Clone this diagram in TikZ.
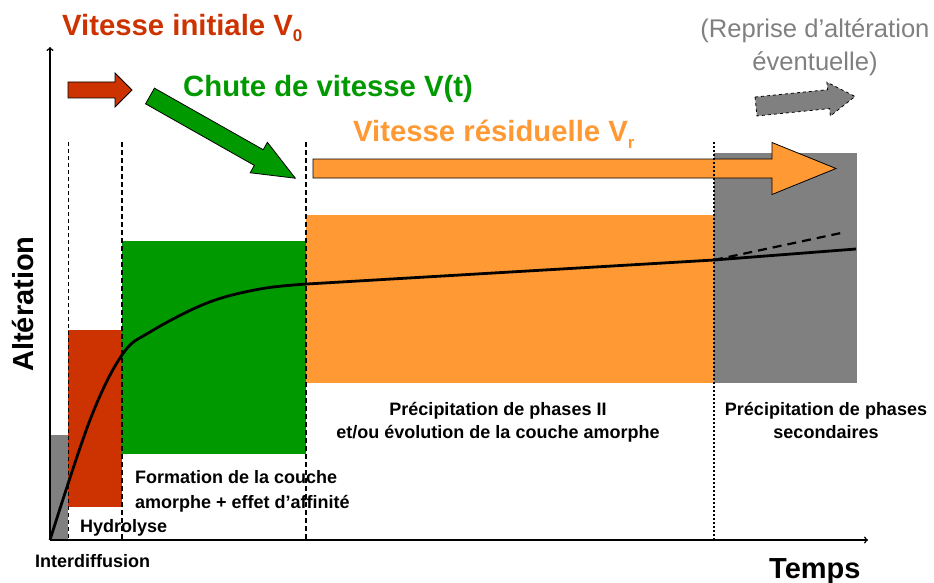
\documentclass[tikz,border=0pt]{standalone}
\usepackage{fontspec}
\setmainfont{Liberation Sans}
\usepackage{xcolor}
\definecolor{vred}{RGB}{204,51,0}
\definecolor{vgreen}{RGB}{0,153,0}
\definecolor{vorange}{RGB}{255,153,51}
\definecolor{vgray}{RGB}{128,128,128}
\newcommand{\vsub}[1]{\raisebox{-6pt}{\fontsize{17}{17}\selectfont #1}}

\begin{document}
\begin{tikzpicture}[x=1pt,y=-1pt,
    lbl/.style={font=\fontsize{18}{24}\selectfont\bfseries, inner sep=0pt},
    title/.style={font=\fontsize{29.3}{32}\selectfont\bfseries, inner sep=0pt, anchor=base west},
    fat/.style={draw=black, line width=0.8pt, line join=miter}]
  \useasboundingbox (0,0) rectangle (934,583);

  % zones
  \fill[vgray] (50,435) rectangle (68,540);
  \fill[vred] (68,330) rectangle (122,507);
  \fill[vgreen] (122,241) rectangle (306,454);
  \fill[vorange] (306,215) rectangle (714,383);
  \fill[vgray] (714,153) rectangle (857,383);

  % big arrows
  \draw[fat, fill=vred, shift={(68,90)}]
    (0,-8) -- (47,-8) -- (47,-17) -- (64,0) -- (47,17) -- (47,8) -- (0,8) -- cycle;
  \draw[fat, fill=vgreen, shift={(150,96)}, rotate=-29.5]
    (0,-9) -- (125,-9) -- (125,-17.5) -- (167,0) -- (125,17.5) -- (125,9) -- (0,9) -- cycle;
  \draw[fat, fill=vorange, shift={(313,168.5)}]
    (0,-9.5) -- (459,-9.5) -- (459,-26) -- (523,0) -- (459,26) -- (459,9.5) -- (0,9.5) -- cycle;
  \draw[fat, dashed, fill=vgray, shift={(756,106.5)}, rotate=5.8]
    (0,-9.5) -- (73,-9.5) -- (73,-17) -- (99.5,0) -- (73,17) -- (73,9.5) -- (0,9.5) -- cycle;

  % limits
  \draw[line width=1pt, dash pattern=on 4pt off 3pt] (68,142) -- (68,540);
  \draw[line width=1.6pt, dash pattern=on 5pt off 3pt] (122,142) -- (122,540);
  \draw[line width=1.4pt, dash pattern=on 5pt off 3pt] (306,142) -- (306,540);
  \draw[line width=2pt, dash pattern=on 2pt off 2pt] (714,142) -- (714,540);

  % axes
  \coordinate (O) at (50,540);
  \coordinate (ytop) at (50,47);
  \coordinate (xend) at (868,540);
  \draw[line width=1.5pt, ->] (O) -- (ytop);
  \draw[line width=1.5pt, ->] (O) -- (xend);

  % curve
  \draw[line width=2.8pt, line join=round] plot[smooth, tension=0.6] coordinates
    {(50,540) (90,420) (122,355) (150,332) (207,303) (260,289) (307,284)}
    -- (714,260) -- (856,249);
  \draw[line width=2.2pt, dash pattern=on 9pt off 6pt] (714,260) -- (841,233);

  % titles
  \node[title, text=vred] (vinit) at (62,36) {Vitesse initiale V\vsub{0}};
  \node[title, text=vgreen] (vchute) at (183,97) {Chute de vitesse V(t)};
  \node[title, text=vorange] (vres) at (353,142) {Vitesse résiduelle V\vsub{r}};
  \node[inner sep=0pt, anchor=north, align=center, text=vgray,
    font=\fontsize{25.6}{33}\selectfont] (reprise) at (815,18.5)
    {(Reprise d’altération\\éventuelle)};

  % axis labels
  \node[inner sep=0pt, anchor=base, rotate=90, font=\fontsize{29}{32}\selectfont\bfseries]
    (alteration) at (33,304) {Altération};
  \node[inner sep=0pt, anchor=base west, font=\fontsize{29}{32}\selectfont\bfseries]
    (temps) at (769,578) {Temps};

  % zone labels
  \node[lbl, anchor=base west] (interdiff) at (35,567) {Interdiffusion};
  \node[lbl, anchor=base west] (hydro) at (80,532) {Hydrolyse};
  \node[lbl, anchor=north west, align=left, font=\fontsize{18}{25}\selectfont\bfseries]
    (formation) at (135,470) {Formation de la couche\\amorphe + effet d’affinité};
  \node[lbl, anchor=north, align=center, font=\fontsize{18}{23}\selectfont\bfseries]
    (precipII) at (498,402) {Précipitation de phases II\\et/ou évolution de la couche amorphe};
  \node[lbl, anchor=north, align=center, font=\fontsize{18}{23}\selectfont\bfseries]
    (precipsec) at (826,402) {Précipitation de phases\\secondaires};
\end{tikzpicture}
\end{document}
